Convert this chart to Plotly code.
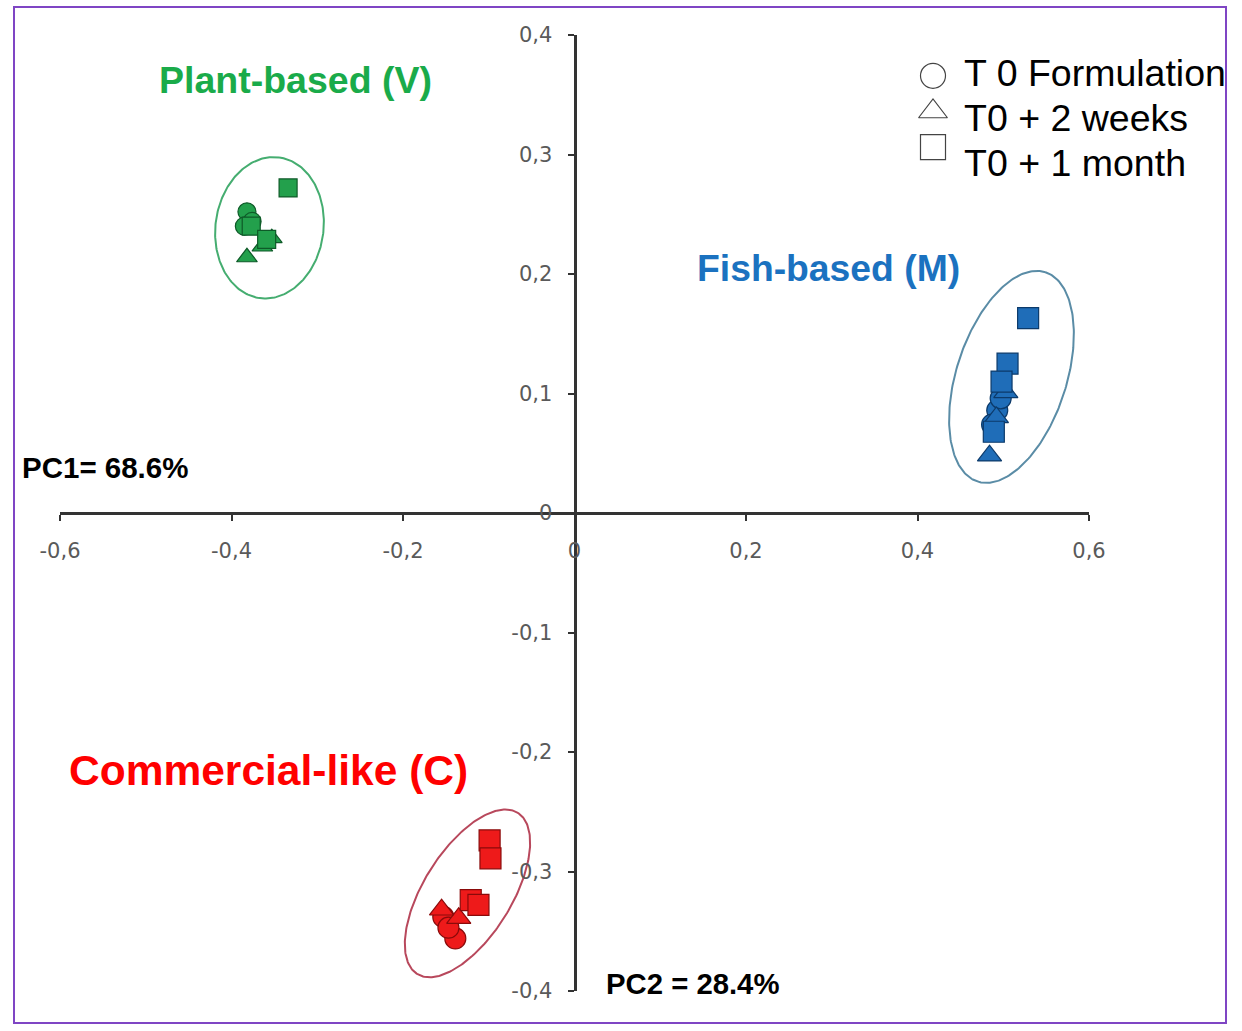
import numpy as np
import plotly.graph_objects as go

# ---------------- data (PC1, PC2 scores) ----------------
time_labels = ["T 0 Formulation", "T0 + 2 weeks", "T0 + 1 month"]
time_symbols = ["circle", "triangle-up", "square"]

# Plant-based (V)
V_t0_pc1 = [-0.382, -0.376, -0.385]
V_t0_pc2 = [0.252, 0.244, 0.240]
V_2w_pc1 = [-0.382, -0.364, -0.353]
V_2w_pc2 = [0.214, 0.223, 0.230]
V_1m_pc1 = [-0.334, -0.377, -0.359]
V_1m_pc2 = [0.272, 0.240, 0.229]

# Fish-based (M)
M_t0_pc1 = [0.493, 0.487, 0.497]
M_t0_pc2 = [0.086, 0.074, 0.096]
M_2w_pc1 = [0.484, 0.503, 0.492]
M_2w_pc2 = [0.048, 0.101, 0.080]
M_1m_pc1 = [0.529, 0.505, 0.498, 0.489]
M_1m_pc2 = [0.163, 0.125, 0.110, 0.068]

# Commercial-like (C)
C_t0_pc1 = [-0.153, -0.139, -0.147]
C_t0_pc2 = [-0.338, -0.356, -0.347]
C_2w_pc1 = [-0.135, -0.155]
C_2w_pc2 = [-0.339, -0.332]
C_1m_pc1 = [-0.099, -0.098, -0.121, -0.112]
C_1m_pc2 = [-0.274, -0.289, -0.324, -0.328]

x_tick_vals = [-0.6, -0.4, -0.2, 0, 0.2, 0.4, 0.6]
x_tick_text = ["-0,6", "-0,4", "-0,2", "0", "0,2", "0,4", "0,6"]
y_tick_vals = [-0.4, -0.3, -0.2, -0.1, 0, 0.1, 0.2, 0.3, 0.4]
y_tick_text = ["-0,4", "-0,3", "-0,2", "-0,1", "0", "0,1", "0,2", "0,3", "0,4"]

groups = [
    dict(name="Plant-based (V)", fill="#23a04c", edge="#0e5a28", ring="#45ad70", size=18,
         series=[(V_t0_pc1, V_t0_pc2), (V_2w_pc1, V_2w_pc2), (V_1m_pc1, V_1m_pc2)],
         ell=(-0.3557, 0.2387, 71, 54, 82)),
    dict(name="Fish-based (M)", fill="#1f6db8", edge="#0c3a6a", ring="#5a8ca6", size=21,
         series=[(M_t0_pc1, M_t0_pc2), (M_2w_pc1, M_2w_pc2), (M_1m_pc1, M_1m_pc2)],
         ell=(0.5096, 0.1139, 110, 55, 72)),
    dict(name="Commercial-like (C)", fill="#ee1a1a", edge="#8a0a0a", ring="#b8485c", size=21,
         series=[(C_t0_pc1, C_t0_pc2), (C_2w_pc1, C_2w_pc2), (C_1m_pc1, C_1m_pc2)],
         ell=(-0.1248, -0.3183, 95, 44, 58)),
]

# ---------------- layout geometry ----------------
W, H = 1242, 1031
ML, MR, MT, MB = 60, 153, 35, 40
XR = [-0.6, 0.6]
YR = [-0.4, 0.4]
PW, PH = W - ML - MR, H - MT - MB
PX_X = PW / (XR[1] - XR[0])
PX_Y = PH / (YR[1] - YR[0])


def px2paper_x(px):
    return (px - ML) / PW


def px2paper_y(py):
    return (H - MB - py) / PH


def ellipse(cx, cy, a_px, b_px, ang_deg, n=240):
    t = np.linspace(0, 2 * np.pi, n)
    th = np.radians(ang_deg)
    dx = a_px * np.cos(t) * np.cos(th) - b_px * np.sin(t) * np.sin(th)
    dy = a_px * np.cos(t) * np.sin(th) + b_px * np.sin(t) * np.cos(th)
    return cx + dx / PX_X, cy + dy / PX_Y


fig = go.Figure()

for g in groups:
    ex, ey = ellipse(*g["ell"])
    fig.add_trace(go.Scatter(x=ex, y=ey, mode="lines", line=dict(color=g["ring"], width=2),
                             hoverinfo="skip", showlegend=False))
    for (xs, ys), sym in zip(g["series"], time_symbols):
        fig.add_trace(go.Scatter(
            x=xs, y=ys, mode="markers", showlegend=False, name=g["name"],
            marker=dict(symbol=sym, size=g["size"], color=g["fill"],
                        line=dict(color=g["edge"], width=1.2))))

# legend symbols (overlay axes x2/y2) and labels (x3/y3)
fig.add_trace(go.Scatter(
    x=[0] * len(time_labels), y=time_labels, xaxis="x2", yaxis="y2", mode="markers",
    showlegend=False, cliponaxis=False,
    marker=dict(symbol=[s + "-open" for s in time_symbols], size=25, color="#444444",
                line=dict(width=1.2))))
fig.add_trace(go.Scatter(
    x=[0] * len(time_labels), y=time_labels, xaxis="x3", yaxis="y3", mode="text",
    text=time_labels, textposition="middle right", showlegend=False, cliponaxis=False,
    textfont=dict(family="Liberation Sans, Arial", size=37.5, color="#000000")))

axis_common = dict(showgrid=False, zeroline=False, showline=True, linecolor="#333333",
                   linewidth=3, ticks="outside", ticklen=6, tickwidth=2, tickcolor="#333333",
                   tickfont=dict(family="DejaVu Sans", size=21, color="#5a5a5a"),
                   anchor="free", position=0.5)

fig.update_layout(
    width=W, height=H,
    margin=dict(l=ML, r=MR, t=MT, b=MB),
    paper_bgcolor="white", plot_bgcolor="white",
    xaxis=dict(range=XR, tickvals=x_tick_vals, ticktext=x_tick_text,
               ticklabelstandoff=12, **axis_common),
    yaxis=dict(range=YR, tickvals=y_tick_vals, ticktext=y_tick_text,
               ticklabelstandoff=11, **axis_common),
    xaxis2=dict(domain=[px2paper_x(913), px2paper_x(953)], range=[-1, 1], visible=False,
                anchor="y2"),
    yaxis2=dict(domain=[px2paper_y(165), px2paper_y(58)], range=[2.5, -0.5], visible=False,
                type="category", anchor="x2"),
    xaxis3=dict(domain=[px2paper_x(964), 1], range=[0, 1], visible=False, anchor="y3"),
    yaxis3=dict(domain=[px2paper_y(189), px2paper_y(54)], range=[2.5, -0.5],
                visible=False, type="category", anchor="x3"),
    showlegend=False,
)

# group labels and PC labels
lab_font = "Liberation Sans, Arial"
annots = [
    ("Plant-based (V)", 295, 80, 37.5, "#1aab4a"),
    ("Fish-based (M)", 828, 268, 37.3, "#1b72c0"),
    ("Commercial-like (C)", 268, 770, 42.5, "#ff0000"),
    ("PC1= 68.6%", 105, 468, 29.5, "#000000"),
    ("PC2 = 28.4%", 692, 983, 29.3, "#000000"),
]
for txt, px, py, fs, col in annots:
    fig.add_annotation(text="<b>%s</b>" % txt, x=px2paper_x(px), y=px2paper_y(py),
                       xref="paper", yref="paper", showarrow=False,
                       xanchor="center", yanchor="middle",
                       font=dict(family=lab_font, size=fs, color=col))

# purple frame
fig.add_shape(type="rect", xref="paper", yref="paper",
              x0=px2paper_x(14), x1=px2paper_x(1226), y0=px2paper_y(1023), y1=px2paper_y(7),
              line=dict(color="#7f45c4", width=2), layer="below")

fig.write_html("out.html", config={"displayModeBar": False},
               post_script="document.body.style.margin='0';")
